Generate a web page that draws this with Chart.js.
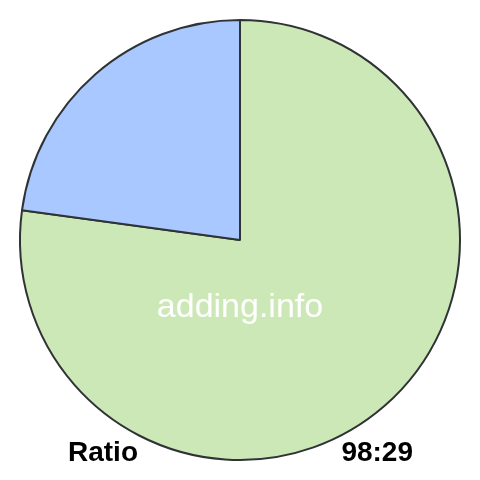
<!DOCTYPE html>
<html>
<head>
<meta charset="utf-8">
<script src="https://cdn.jsdelivr.net/npm/chart.js@4/dist/chart.umd.min.js"></script>
<style>
  html, body { margin: 0; padding: 0; background: #fff; }
  #wrap { width: 480px; height: 480px; }
</style>
</head>
<body>
<div id="wrap"><canvas id="chart" width="480" height="480"></canvas></div>
<script>
const labels = ['First', 'Second']
const values = [98, 29]
const colors = ['#cde8b7', '#a9c8ff']
const captionLeft = 'Ratio'
const captionRight = '98:29'
const watermark = 'adding.info'

// draw the texts on top of the pie
const textPlugin = {
    id: 'texts',
    afterDraw: function (chart) {
        const ctx = chart.ctx
        ctx.save()
        ctx.fillStyle = '#ffffff'
        ctx.font = '34px "Liberation Sans", Arial, sans-serif'
        ctx.textAlign = 'center'
        ctx.textBaseline = 'alphabetic'
        ctx.fillText(watermark, 240, 317)

        ctx.fillStyle = '#000000'
        ctx.font = 'bold 28px "Liberation Sans", Arial, sans-serif'
        ctx.textAlign = 'left'
        ctx.fillText(captionLeft, 68, 461)
        ctx.textAlign = 'right'
        ctx.fillText(captionRight, 413, 461)
        ctx.restore()
    }
}

new Chart(document.getElementById('chart'), {
    type: 'pie',
    data: {
        labels: labels,
        datasets: [{
            data: values,
            backgroundColor: colors,
            borderColor: '#2f3336',
            borderWidth: 2,
        }]
    },
    options: {
        responsive: false,
        animation: false,
        layout: { padding: 19 },
        plugins: {
            legend: { display: false },
            tooltip: { enabled: false },
        },
    },
    plugins: [textPlugin],
})
</script>
</body>
</html>
